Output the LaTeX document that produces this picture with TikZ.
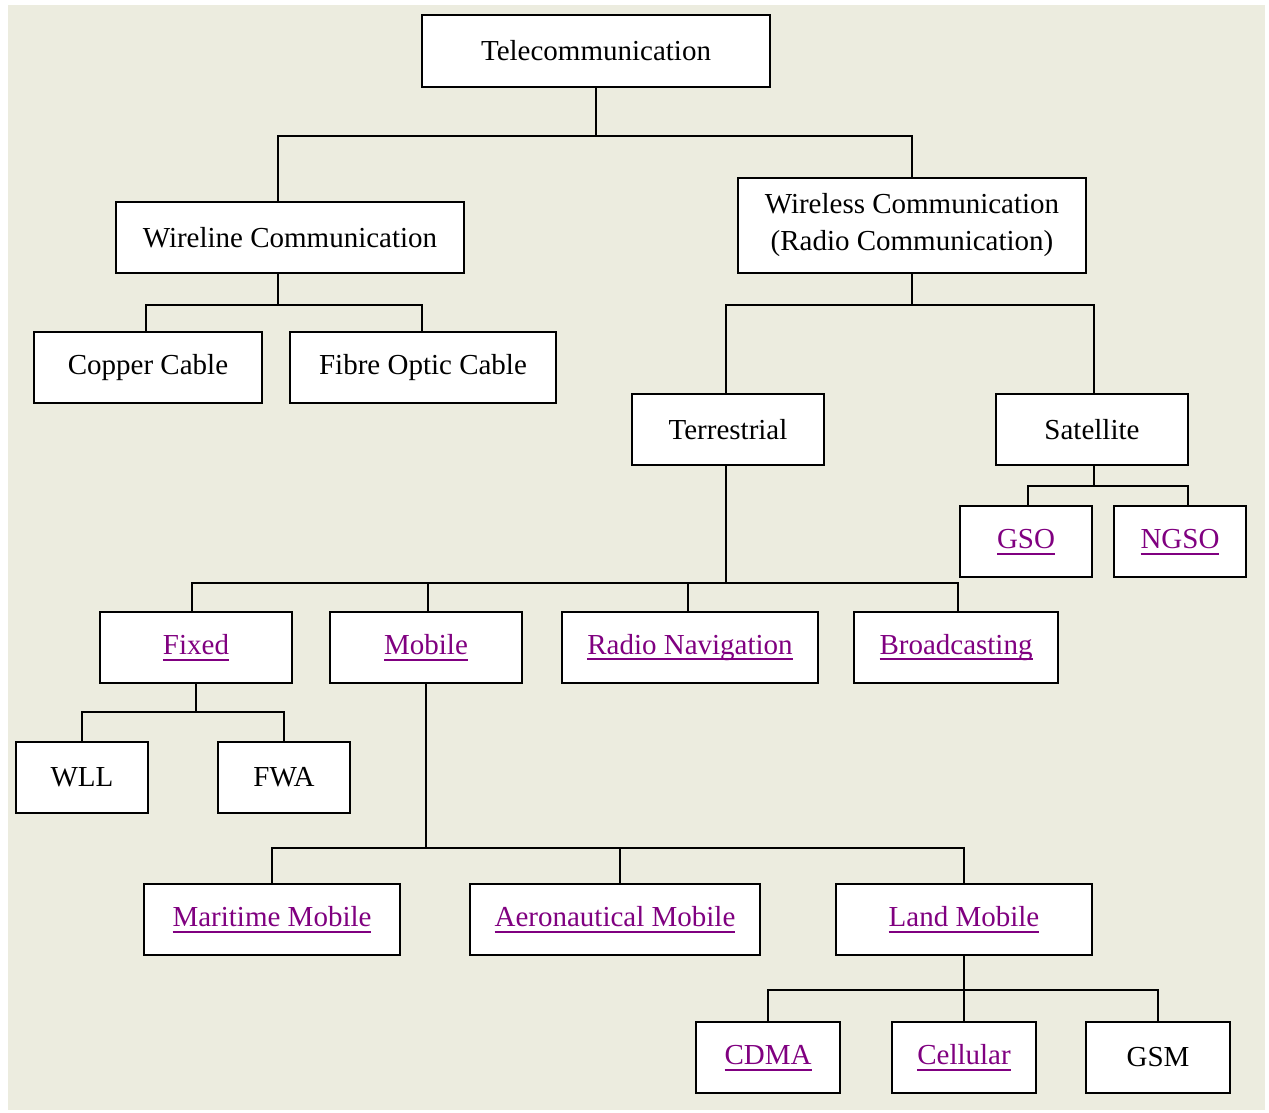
\documentclass[tikz,border=0pt]{standalone}
\usepackage{fontspec}
\setmainfont{Liberation Serif}
\definecolor{bgc}{RGB}{236,236,223}
\definecolor{linkc}{RGB}{128,0,128}
\newcommand\lnk[1]{\textcolor{linkc}{\setbox0\hbox{#1}\rlap{\raisebox{-6pt}{\rule{\wd0}{2pt}}}\box0}\vphantom{Al}}
\begin{document}
\begin{tikzpicture}[x=1pt,y=-1pt,
  box/.style={draw=black, fill=white, line width=1.4pt, inner sep=0pt, align=center,
    font=\fontsize{29}{37}\selectfont, text=black},
  wire/.style={line width=1.4pt, draw=black}]
\useasboundingbox (0,0) rectangle (1269,1113);
\fill[white] (0,0) rectangle (1269,1113);
\fill[bgc] (8,5) rectangle (1265,1110);

% nodes
\node[box, minimum width=348pt, minimum height=72pt] (tel) at (596,51) {Telecommunication};
\node[box, minimum width=348pt, minimum height=71pt] (wl) at (290,237.5) {Wireline Communication};
\node[box, minimum width=348pt, minimum height=95pt] (wr) at (912,225.5) {Wireless Communication\\(Radio Communication)};
\node[box, minimum width=228pt, minimum height=71pt] (cu) at (148,367.5) {Copper Cable};
\node[box, minimum width=266pt, minimum height=71pt] (fo) at (423,367.5) {Fibre Optic Cable};
\node[box, minimum width=192pt, minimum height=71pt] (te) at (728,429.5) {Terrestrial};
\node[box, minimum width=192pt, minimum height=71pt] (sa) at (1092,429.5) {Satellite};
\node[box, minimum width=132pt, minimum height=71pt] (gso) at (1026,541.5) {\lnk{GSO}};
\node[box, minimum width=132pt, minimum height=71pt] (ngso) at (1180,541.5) {\lnk{NGSO}};
\node[box, minimum width=192pt, minimum height=71pt] (fx) at (196,647.5) {\lnk{Fixed}};
\node[box, minimum width=192pt, minimum height=71pt] (mo) at (426,647.5) {\lnk{Mobile}};
\node[box, minimum width=256pt, minimum height=71pt] (rn) at (690,647.5) {\lnk{Radio Navigation}};
\node[box, minimum width=204pt, minimum height=71pt] (bc) at (956,647.5) {\lnk{Broadcasting}};
\node[box, minimum width=132pt, minimum height=71pt] (wll) at (82,777.5) {WLL};
\node[box, minimum width=132pt, minimum height=71pt] (fwa) at (284,777.5) {FWA};
\node[box, minimum width=256pt, minimum height=71pt] (mm) at (272,919.5) {\lnk{Maritime Mobile}};
\node[box, minimum width=290pt, minimum height=71pt] (am) at (615,919.5) {\lnk{Aeronautical Mobile}};
\node[box, minimum width=256pt, minimum height=71pt] (lm) at (964,919.5) {\lnk{Land Mobile}};
\node[box, minimum width=144pt, minimum height=71pt] (cd) at (768,1057.5) {\lnk{CDMA}};
\node[box, minimum width=144pt, minimum height=71pt] (ce) at (964,1057.5) {\lnk{Cellular}};
\node[box, minimum width=144pt, minimum height=71pt] (gsm) at (1158,1057.5) {GSM};

% bus coordinates
\coordinate (b1) at (596,136);
\coordinate (b2) at (278,305);
\coordinate (b3) at (912,305);
\coordinate (b4) at (1094,486);
\coordinate (b5) at (726,583);
\coordinate (b6) at (196,712);
\coordinate (b7) at (426,848);
\coordinate (b8) at (964,990);

% connectors
\draw[wire] (tel.south) -- (b1);
\draw[wire] ([xshift=-12pt]wl.north) |- (b1) -| (wr.north);
\draw[wire] ([xshift=-12pt]wl.south) -- (b2);
\draw[wire] ([xshift=-2pt]cu.north) |- (b2) -| ([xshift=-1pt]fo.north);
\draw[wire] (wr.south) -- (b3);
\draw[wire] ([xshift=-2pt]te.north) |- (b3) -| ([xshift=2pt]sa.north);
\draw[wire] ([xshift=2pt]sa.south) -- (b4);
\draw[wire] ([xshift=2pt]gso.north) |- (b4) -| ([xshift=8pt]ngso.north);
\draw[wire] ([xshift=-2pt]te.south) -- (b5);
\draw[wire] ([xshift=-4pt]fx.north) |- (b5) -| ([xshift=2pt]bc.north);
\draw[wire] ([xshift=2pt]mo.north) -- ([xshift=2pt]mo.north |- b5);
\draw[wire] ([xshift=-2pt]rn.north) -- ([xshift=-2pt]rn.north |- b5);
\draw[wire] (fx.south) -- (b6);
\draw[wire] (wll.north) |- (b6) -| (fwa.north);
\draw[wire] (mo.south) -- (b7);
\draw[wire] (mm.north) |- (b7) -| (lm.north);
\draw[wire] ([xshift=5pt]am.north) -- ([xshift=5pt]am.north |- b7);
\draw[wire] (lm.south) -- (b8);
\draw[wire] (cd.north) |- (b8) -| (gsm.north);
\draw[wire] (ce.north) -- (b8);
\end{tikzpicture}
\end{document}
